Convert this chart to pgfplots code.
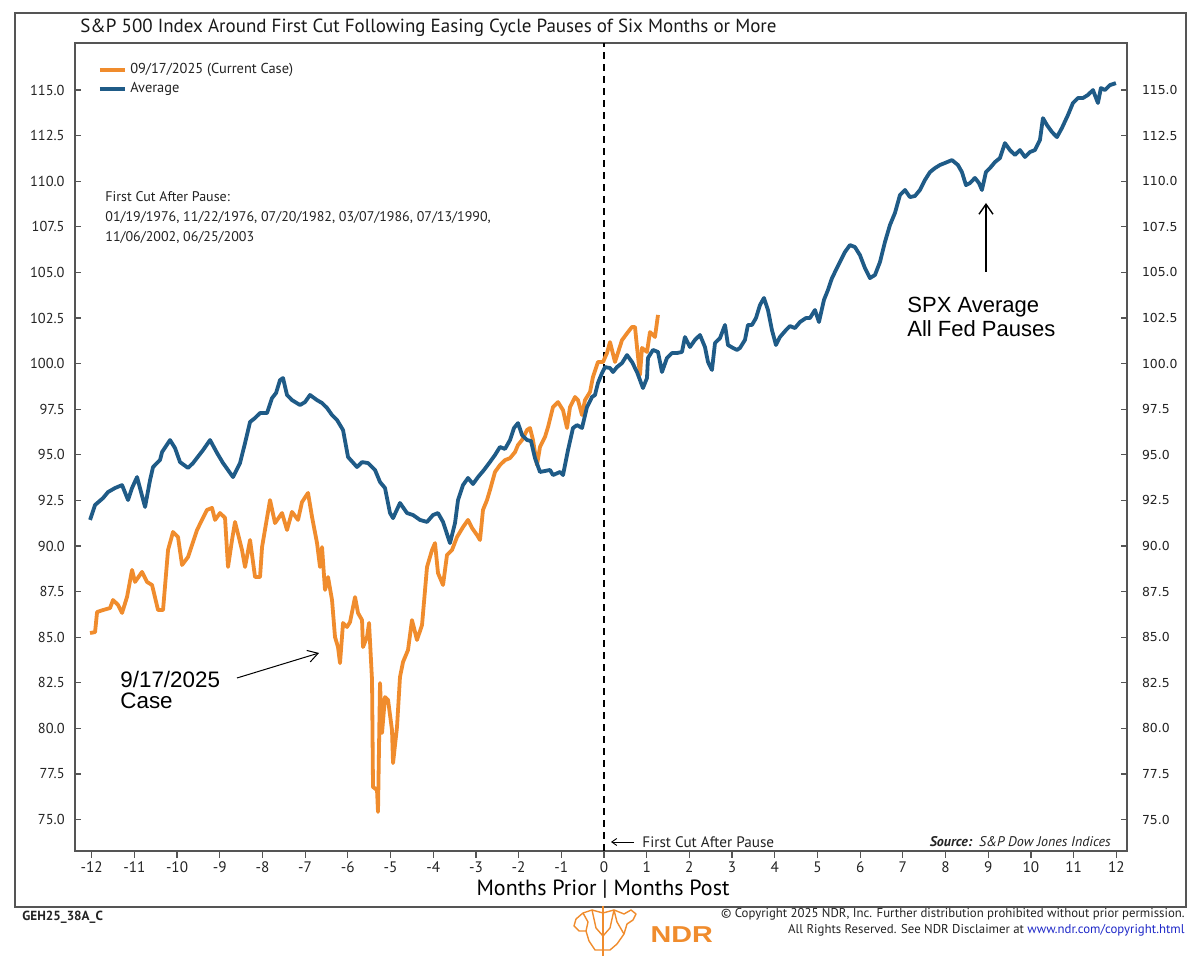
\documentclass[border=0pt]{standalone}
\usepackage{pgfplots}
\pgfplotsset{compat=1.18}
\usepackage{pgfplotstable}
\usepackage{fontspec}
\setmainfont{PT Sans}
\newfontfamily\arialfont{Liberation Sans}
\newfontfamily\tickfont{DejaVu Sans}
\usetikzlibrary{arrows.meta}

\definecolor{curorange}{RGB}{240,140,45}
\definecolor{avgblue}{RGB}{31,91,135}
\definecolor{framegray}{RGB}{85,85,85}
\definecolor{textgray}{RGB}{35,35,35}
\definecolor{linkblue}{RGB}{30,40,200}

% Average path of the S&P 500 around the first cut (months, index = 100 at cut)
\pgfplotstableread{
m v
-12.037 91.43
-11.920 92.25
-11.733 92.63
-11.616 92.96
-11.452 93.18
-11.288 93.34
-11.148 92.52
-11.054 93.18
-10.937 93.78
-10.749 92.14
-10.632 93.62
-10.562 94.33
-10.398 94.72
-10.351 95.15
-10.164 95.81
-10.047 95.37
-9.930 94.60
-9.742 94.28
-9.625 94.55
-9.391 95.26
-9.227 95.81
-9.063 95.10
-8.923 94.55
-8.689 93.78
-8.525 94.55
-8.407 95.65
-8.290 96.80
-8.173 97.02
-8.056 97.29
-7.892 97.29
-7.775 98.11
-7.681 98.39
-7.588 99.10
-7.518 99.21
-7.424 98.28
-7.307 98.00
-7.120 97.73
-7.003 97.89
-6.886 98.28
-6.722 98.00
-6.604 97.84
-6.487 97.57
-6.370 97.18
-6.253 96.91
-6.112 96.36
-5.995 94.88
-5.785 94.33
-5.667 94.60
-5.527 94.55
-5.363 94.17
-5.246 93.51
-5.129 93.18
-5.012 91.81
-4.941 91.53
-4.778 92.36
-4.614 91.81
-4.473 91.70
-4.309 91.43
-4.145 91.32
-4.005 91.70
-3.888 91.81
-3.770 91.32
-3.607 90.16
-3.489 91.26
-3.419 92.52
-3.302 93.34
-3.185 93.73
-3.068 93.40
-2.951 93.78
-2.810 94.17
-2.670 94.61
-2.553 94.99
-2.436 95.43
-2.319 95.32
-2.201 95.81
-2.108 96.47
-2.014 96.74
-1.920 96.09
-1.803 95.81
-1.710 95.76
-1.616 94.82
-1.499 94.06
-1.265 94.17
-1.194 93.89
-1.030 94.06
-0.960 93.89
-0.843 95.26
-0.726 96.47
-0.632 96.63
-0.515 96.47
-0.398 97.62
-0.281 98.17
-0.211 98.28
-0.141 98.94
-0.047 99.48
0.023 99.81
0.141 99.76
0.211 99.54
0.304 99.81
0.422 100.03
0.539 100.47
0.656 100.09
0.773 99.54
0.843 99.10
0.913 98.66
1.007 99.21
1.030 100.31
1.148 100.75
1.265 100.64
1.358 99.54
1.475 100.31
1.593 100.58
1.710 100.58
1.827 100.64
1.897 101.46
2.014 100.91
2.131 101.30
2.248 101.57
2.365 100.91
2.436 100.09
2.529 99.65
2.600 101.13
2.717 101.40
2.834 102.12
2.904 101.02
3.021 100.86
3.115 100.75
3.185 100.86
3.302 101.30
3.372 102.12
3.466 102.12
3.560 102.50
3.653 103.21
3.747 103.60
3.841 102.94
3.934 101.84
4.028 101.02
4.122 101.46
4.262 101.84
4.356 102.06
4.473 101.95
4.590 102.28
4.731 102.50
4.824 102.50
4.941 102.94
5.035 102.28
5.152 103.49
5.246 104.04
5.340 104.69
5.433 105.13
5.527 105.57
5.644 106.12
5.761 106.50
5.878 106.39
5.995 105.95
6.112 105.24
6.229 104.69
6.347 104.86
6.464 105.57
6.581 106.67
6.698 107.60
6.815 108.26
6.932 109.24
7.049 109.52
7.166 109.13
7.283 109.19
7.400 109.52
7.518 110.07
7.635 110.50
7.752 110.72
7.869 110.89
7.986 111.00
8.150 111.16
8.290 110.89
8.384 110.50
8.478 109.79
8.571 109.90
8.689 110.18
8.782 109.90
8.852 109.52
8.946 110.50
9.040 110.72
9.157 111.05
9.274 111.27
9.391 112.09
9.508 111.71
9.625 111.44
9.742 111.71
9.859 111.33
9.977 111.60
10.094 111.71
10.211 112.26
10.281 113.46
10.375 113.08
10.492 112.70
10.609 112.42
10.726 112.92
10.867 113.63
10.984 114.29
11.101 114.56
11.218 114.56
11.335 114.73
11.452 115.00
11.569 114.29
11.639 115.11
11.733 115.00
11.850 115.27
11.991 115.38
}\avgtable

% Current case: first cut on 09/17/2025
\pgfplotstableread{
m v
-12.037 85.23
-11.920 85.28
-11.873 86.38
-11.733 86.49
-11.569 86.60
-11.499 87.04
-11.382 86.77
-11.288 86.33
-11.171 87.21
-11.054 88.69
-10.984 88.03
-10.820 88.58
-10.703 88.03
-10.585 87.86
-10.445 86.49
-10.328 86.49
-10.211 89.78
-10.094 90.77
-9.977 90.49
-9.883 88.96
-9.742 89.40
-9.532 90.88
-9.298 91.98
-9.180 92.09
-9.110 91.43
-8.993 91.81
-8.876 91.54
-8.806 88.85
-8.712 90.33
-8.642 91.32
-8.478 89.78
-8.407 88.85
-8.290 90.33
-8.173 88.30
-8.056 88.30
-8.009 89.94
-7.822 92.52
-7.705 91.26
-7.541 91.81
-7.424 90.88
-7.307 91.87
-7.166 91.43
-7.073 92.41
-6.932 92.91
-6.838 91.59
-6.721 90.16
-6.651 88.85
-6.604 89.94
-6.534 87.59
-6.464 88.30
-6.370 87.04
-6.300 85.01
-6.230 84.46
-6.183 83.58
-6.112 85.78
-6.019 85.56
-5.948 85.83
-5.831 87.20
-5.761 86.33
-5.667 85.94
-5.644 84.46
-5.550 85.01
-5.503 85.78
-5.433 82.65
-5.410 76.79
-5.316 76.62
-5.293 75.42
-5.246 82.49
-5.199 79.75
-5.129 81.72
-5.058 81.56
-4.965 79.91
-4.941 78.10
-4.848 80.08
-4.778 82.82
-4.707 83.64
-4.590 84.30
-4.497 85.94
-4.380 84.85
-4.262 85.67
-4.145 88.85
-4.028 89.78
-3.958 90.16
-3.888 88.52
-3.770 87.86
-3.677 89.51
-3.560 89.78
-3.443 90.49
-3.302 91.04
-3.185 91.43
-3.091 90.99
-2.974 90.60
-2.904 90.33
-2.834 91.98
-2.740 92.52
-2.670 93.07
-2.553 94.06
-2.436 94.44
-2.319 94.71
-2.201 94.82
-2.084 95.15
-2.014 95.54
-1.920 95.81
-1.803 96.36
-1.733 96.47
-1.663 95.81
-1.569 94.44
-1.499 95.43
-1.382 95.98
-1.311 96.52
-1.194 97.62
-1.077 97.89
-0.960 97.45
-0.866 96.47
-0.796 97.62
-0.679 98.17
-0.609 98.00
-0.515 97.18
-0.445 98.00
-0.328 98.44
-0.258 99.27
-0.141 100.09
-0.023 100.09
0.070 100.58
0.141 101.18
0.258 100.09
0.422 101.29
0.562 101.73
0.656 102.01
0.726 102.01
0.773 100.91
0.843 99.38
0.890 100.86
1.007 100.64
1.077 101.73
1.194 101.46
1.265 102.67
}\curtable

\begin{document}
\begin{tikzpicture}
% page and outer frame
\fill[white] (0,0) rectangle (600pt,478pt);
\draw[framegray, line width=0.7pt] (7.5pt,24.5pt) rectangle (593pt,471.5pt);
\node[anchor=base west, inner sep=0pt, text=black!90, font=\fontsize{9.5}{11}\selectfont]
  at (40pt,461.5pt) {S\&P 500 Index Around First Cut Following Easing Cycle Pauses of Six Months or More};

% main axis: x ticks outside, left-hand y labels
\begin{axis}[
  at={(37.5pt,52.5pt)}, anchor=south west,
  scale only axis, width=526pt, height=404pt,
  xmin=-12.39, xmax=12.25, ymin=73.28, ymax=117.58,
  axis line style={framegray, line width=0.75pt},
  tick align=outside,
  xtick={-12,-11,-10,-9,-8,-7,-6,-5,-4,-3,-2,-1,0,1,2,3,4,5,6,7,8,9,10,11,12},
  xticklabels={-12,-11,-10,-9,-8,-7,-6,-5,-4,-3,-2,-1,0,1,2,3,4,5,6,7,8,9,10,11,12},
  xtick pos=bottom,
  major tick length=3.5pt,
  x tick style={framegray, line width=0.6pt},
  xticklabel style={font=\fontsize{7.6}{9}\selectfont, text=textgray, inner sep=1.5pt},
  ytick={75,77.5,80,82.5,85,87.5,90,92.5,95,97.5,100,102.5,105,107.5,110,112.5,115},
  yticklabels={75.0,77.5,80.0,82.5,85.0,87.5,90.0,92.5,95.0,97.5,100.0,102.5,105.0,107.5,110.0,112.5,115.0},
  ytick pos=left,
  y tick style={draw=none},
  yticklabel style={font=\fontsize{7.2}{9}\selectfont, text=textgray, inner sep=1.5pt},
  legend style={at={(0.021,0.979)}, anchor=north west, draw=none, fill=none,
    font=\fontsize{7.2}{9}\selectfont, inner sep=0pt, row sep=-0.5pt,
    nodes={inner sep=1.6pt, text=textgray}},
  legend cell align=left,
  legend image code/.code={\draw[line width=2.3pt] (0pt,0pt) -- (12.5pt,0pt);},
]
\draw[black, line width=0.6pt, dash pattern=on 3.5pt off 2.5pt]
  (axis cs:0,73.28) -- (axis cs:0,117.58);
\addplot[curorange, line width=1.9pt, line join=round] table[x=m, y=v] {\curtable};
\addlegendentry{09/17/2025 (Current Case)}
\addplot[avgblue, line width=1.9pt, line join=round] table[x=m, y=v] {\avgtable};
\addlegendentry{Average}
\end{axis}

% overlay axis: inside y ticks on both sides, right-hand labels
\begin{axis}[
  at={(37.5pt,52.5pt)}, anchor=south west,
  scale only axis, width=526pt, height=404pt,
  xmin=-12.39, xmax=12.25, ymin=73.28, ymax=117.58,
  hide x axis,
  axis line style={framegray, line width=0.75pt},
  tick align=inside,
  major tick length=3pt,
  ytick={75,77.5,80,82.5,85,87.5,90,92.5,95,97.5,100,102.5,105,107.5,110,112.5,115},
  yticklabels={75.0,77.5,80.0,82.5,85.0,87.5,90.0,92.5,95.0,97.5,100.0,102.5,105.0,107.5,110.0,112.5,115.0},
  ytick pos=both,
  yticklabel pos=right,
  y tick style={framegray, line width=0.6pt},
  yticklabel style={font=\tickfont\fontsize{6.2}{8}\selectfont, text=textgray, xshift=4pt},
]
\end{axis}

% annotations and footer, in pixel units from the top-left corner
\begin{scope}[shift={(0pt,478pt)}, x=0.5pt, y=-0.5pt]
  \node[anchor=north west, align=left, inner sep=0pt, text=textgray,
        font=\fontsize{7}{10}\selectfont] at (105,191)
    {First Cut After Pause:\\
     01/19/1976, 11/22/1976, 07/20/1982, 03/07/1986, 07/13/1990,\\
     11/06/2002, 06/25/2003};

  \node[anchor=base west, inner sep=0pt, font=\arialfont\fontsize{11.2}{13}\selectfont] at (120,688) {9/17/2025};
  \node[anchor=base west, inner sep=0pt, font=\arialfont\fontsize{11.2}{13}\selectfont] at (120,709) {Case};
  \draw[line width=0.5pt, -{Straight Barb[length=5pt,width=6pt]}] (237,678) -- (319,653);

  \node[anchor=base west, inner sep=0pt, font=\arialfont\fontsize{11}{12}\selectfont] at (907,313) {SPX Average};
  \node[anchor=base west, inner sep=0pt, font=\arialfont\fontsize{11}{12}\selectfont] at (907,337) {All Fed Pauses};
  \draw[line width=0.7pt, -{Straight Barb[length=5pt,width=7pt]}] (986,272) -- (986,203);

  \draw[line width=0.45pt, -{Straight Barb[length=2.5pt,width=3.5pt]}] (634,842) -- (611,842);
  \node[anchor=west, inner sep=0pt, text=textgray, font=\fontsize{7.6}{9}\selectfont] at (642,842) {First Cut After Pause};
  \node[anchor=east, inner sep=0pt, text=textgray, font=\itshape\fontsize{7}{9}\selectfont] at (1111,842)
    {\textbf{Source:}\enspace S\&P Dow Jones Indices};

  \node[anchor=center, inner sep=0pt, text=black, font=\fontsize{11}{13}\selectfont] at (603,889)
    {Months Prior | Months Post};

  \node[anchor=west, inner sep=0pt, text=textgray, font=\bfseries\fontsize{6.6}{7}\selectfont] at (22,917) {GEH25\_38A\_C};
  \node[anchor=east, inner sep=0pt, text=textgray, font=\fontsize{6.4}{7}\selectfont] at (1185,914)
    {\textcopyright{} Copyright 2025 NDR, Inc. Further distribution prohibited without prior permission.};
  \node[anchor=east, inner sep=0pt, text=textgray, font=\fontsize{6.4}{7}\selectfont] at (1185,930)
    {All Rights Reserved. See NDR Disclaimer at \textcolor{linkblue}{www.ndr.com/copyright.html}};

  % logo
  \begin{scope}[curorange, line width=0.7pt, line join=round]
    \draw (603,906) -- (603,956);
    \draw (603,913) -- (592,910) -- (583,913) -- (576,919) -- (574,926) -- (579,931) -- (586,931)
          -- (589,941) -- (595,950) -- (603,950);
    \draw (583,913) -- (588,922) -- (586,931);
    \draw (603,913) -- (614,910) -- (624,914) -- (631,910) -- (636,914) -- (633,920) -- (627,924)
          -- (624,934) -- (617,944) -- (610,950) -- (603,950);
    \draw (614,910) -- (617,922) -- (624,934);
    \draw (592,910) -- (596,928) -- (603,936) -- (610,928) -- (614,910);
  \end{scope}
  \node[anchor=west, inner sep=0pt, xscale=1.25, text=curorange, font=\arialfont\bfseries\fontsize{11.5}{13}\selectfont] at (650,935) {NDR};
\end{scope}
\end{tikzpicture}
\end{document}
